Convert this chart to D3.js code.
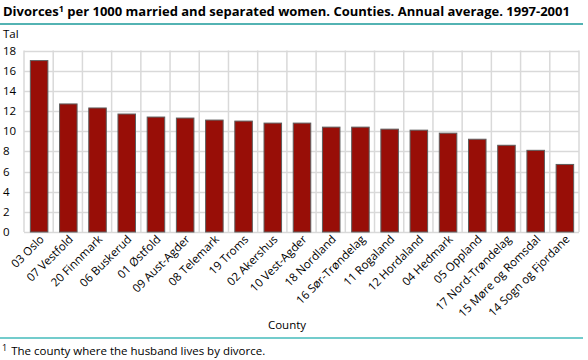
<!DOCTYPE html>
<html><head><meta charset="utf-8">
<script src="https://cdn.jsdelivr.net/npm/d3@7"></script>
<style>
body{margin:0;background:#fff;}
svg{display:block;font-family:"Open Sans",sans-serif;}
</style></head>
<body><svg id="c" width="588" height="360"></svg>
<script>
const categories = ["03 Oslo","07 Vestfold","20 Finnmark","06 Buskerud","01 Østfold","09 Aust-Agder","08 Telemark","19 Troms","02 Akershus","10 Vest-Agder","18 Nordland","16 Sør-Trøndelag","11 Rogaland","12 Hordaland","04 Hedmark","05 Oppland","17 Nord-Trøndelag","15 Møre og Romsdal","14 Sogn og Fjordane"];
const values = [17.0,12.7,12.3,11.7,11.4,11.3,11.1,11.0,10.8,10.8,10.4,10.4,10.2,10.1,9.8,9.2,8.6,8.1,6.7];
const yTicks = [0,2,4,6,8,10,12,14,16,18];
const titleMain = "Divorces";
const titleSup = "1";
const titleRest = " per 1000 married and separated women. Counties. Annual average. 1997-2001";
const yUnit = "Tal";
const xTitle = "County";
const footnote = "The county where the husband lives by divorce.";

const svg = d3.select("#c");
const L = 24, R = 579, T = 50.5, B = 232;
const x = d3.scaleBand().domain(categories).range([L, R]).paddingInner(0.4).paddingOuter(0.2);
const xb = d3.scaleBand().domain(categories).range([L, R]);
const y = d3.scaleLinear().domain([0, 18]).range([B, T]);

// title
const t = svg.append("text").attr("x", 3).attr("y", 16).attr("font-size", 13).attr("font-weight", "bold").attr("fill", "#000");
t.append("tspan").text(titleMain);
t.append("tspan").attr("font-size", 9).attr("dy", -4).text(titleSup);
t.append("tspan").attr("dy", 4).text(titleRest);
svg.append("line").attr("x1", 0).attr("x2", 583).attr("y1", 24).attr("y2", 24).attr("stroke", "#1a9a9a").attr("stroke-width", 1.5);

// grid
const g = svg.append("g");
g.selectAll(".hg").data(yTicks).join("line")
  .attr("x1", L).attr("x2", R).attr("y1", d => Math.round(y(d)) + 0.5).attr("y2", d => Math.round(y(d)) + 0.5)
  .attr("stroke", "#d9d9d9").attr("stroke-width", 1.5);
const vlines = categories.map(c => xb(c)).concat([R]);
g.selectAll(".vg").data(vlines).join("line")
  .attr("x1", d => d).attr("x2", d => d).attr("y1", T).attr("y2", B)
  .attr("stroke", "#d9d9d9").attr("stroke-width", 1.5);

// y axis labels
svg.append("g").selectAll("text").data(yTicks).join("text")
  .attr("x", 3).attr("y", d => y(d) + 4).attr("font-size", 11.5).attr("fill", "#000").text(d => d);
svg.append("text").attr("x", 3).attr("y", 38).attr("font-size", 11.5).text(yUnit);

// bars
svg.append("g").selectAll("rect").data(values).join("rect")
  .attr("x", (d, i) => x(categories[i]) + 0.5)
  .attr("y", d => y(d))
  .attr("width", x.bandwidth())
  .attr("height", d => B - y(d))
  .attr("fill", "#980e07").attr("stroke", "#5e5e5e").attr("stroke-width", 1);

// x labels
const xa = svg.append("g");
xa.selectAll("text").data(categories).join("text")
  .attr("transform", d => `translate(${xb(d) + xb.bandwidth() / 2 + 6},${B + 8}) rotate(-45)`)
  .attr("text-anchor", "end").attr("font-size", 11.5).attr("fill", "#000").text(d => d);

svg.append("text").attr("x", 287).attr("y", 329).attr("text-anchor", "middle").attr("font-size", 11.5).text(xTitle);
svg.append("line").attr("x1", 0).attr("x2", 583).attr("y1", 338).attr("y2", 338).attr("stroke", "#44bbbb").attr("stroke-width", 1.5);
const f = svg.append("text").attr("x", 2).attr("y", 355).attr("font-size", 11.5);
f.append("tspan").attr("font-size", 9).attr("dy", -4).text("1");
f.append("tspan").attr("dy", 4).attr("dx", 4).text(footnote);
</script></body></html>
